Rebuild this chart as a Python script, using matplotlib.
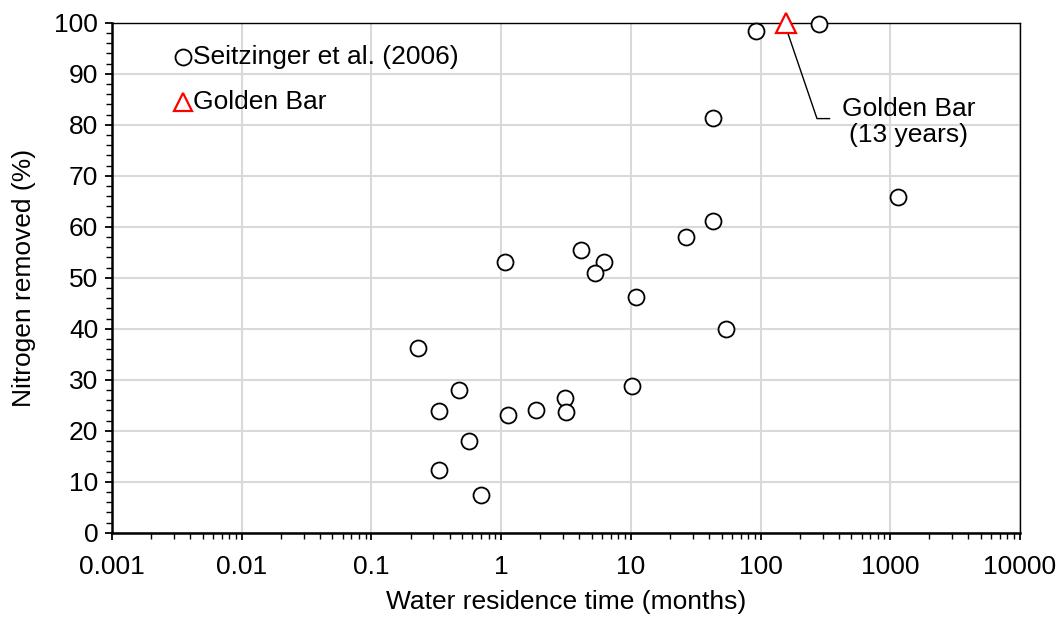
import numpy as np
import matplotlib
matplotlib.use('Agg')
import matplotlib.pyplot as plt
from matplotlib.ticker import LogLocator, MultipleLocator, FixedLocator, FixedFormatter

plt.rcParams['font.family'] = ['Liberation Sans', 'DejaVu Sans']

# Seitzinger et al. (2006) lakes/reservoirs
residence_months = [0.23, 0.47, 0.33, 0.56, 0.33, 0.70, 1.07, 1.13, 1.84, 3.08, 3.15,
                    4.09, 6.22, 5.28, 10.9, 10.2, 26.5, 42.6, 54.0, 42.6, 92.0, 283.0, 1150.0]
n_removed = [36.2, 28.0, 23.9, 18.0, 12.3, 7.3, 53.1, 23.1, 24.1, 26.4, 23.7,
             55.4, 53.1, 50.9, 46.3, 28.8, 58.0, 61.1, 40.0, 81.4, 98.4, 99.7, 65.9]

# Golden Bar (13 years)
golden_months = [157.0]
golden_removed = [100.0]

x_ticks = [0.001, 0.01, 0.1, 1, 10, 100, 1000, 10000]
x_tick_labels = ['0.001', '0.01', '0.1', '1', '10', '100', '1000', '10000']

fs = 19

fig = plt.figure(figsize=(10.62, 6.19), dpi=100)
ax = fig.add_axes([0.1055, 0.1394, 0.855, 0.8239])

ax.plot(residence_months, n_removed, linestyle='none', marker='o', markersize=11.5,
        markerfacecolor='white', markeredgecolor='black', markeredgewidth=1.3,
        clip_on=False, zorder=3)
ax.plot(golden_months, golden_removed, linestyle='none', marker='^', markersize=14,
        markerfacecolor='white', markeredgecolor='red', markeredgewidth=1.6,
        clip_on=False, zorder=4)

ax.set_xscale('log')
ax.set_xlim(0.001, 10000)
ax.set_ylim(0, 100)
ax.xaxis.set_major_locator(FixedLocator(x_ticks))
ax.xaxis.set_major_formatter(FixedFormatter(x_tick_labels))
ax.xaxis.set_minor_locator(LogLocator(base=10, subs=np.arange(2, 10), numticks=20))
ax.yaxis.set_major_locator(MultipleLocator(10))
ax.yaxis.set_minor_locator(MultipleLocator(2))

ax.grid(True, which='major', color='#d9d9d9', linewidth=1.5, zorder=0)
ax.set_axisbelow(True)

ax.tick_params(axis='both', which='major', direction='out', length=5, width=1.3,
               labelsize=fs)
ax.tick_params(axis='x', which='major', pad=11)
ax.tick_params(axis='y', which='major', pad=5)
ax.tick_params(axis='both', which='minor', direction='out', length=4, width=1.0)
for s in ['left', 'bottom']:
    ax.spines[s].set_linewidth(1.8)
for s in ['top', 'right']:
    ax.spines[s].set_linewidth(1.0)

ax.set_xlabel('Water residence time (months)', fontsize=fs, labelpad=8)
ax.set_ylabel('Nitrogen removed (%)', fontsize=fs, labelpad=13)

# legend drawn as in the original (marker + text, no frame)
ax.plot([0.0035], [93.2], marker='o', markersize=11.5, markerfacecolor='white',
        markeredgecolor='black', markeredgewidth=1.3, linestyle='none')
ax.text(0.0042, 93.2, 'Seitzinger et al. (2006)', fontsize=fs, va='center', ha='left')
ax.plot([0.0035], [84.4], marker='^', markersize=13, markerfacecolor='white',
        markeredgecolor='red', markeredgewidth=1.6, linestyle='none')
ax.text(0.0042, 84.4, 'Golden Bar', fontsize=fs, va='center', ha='left')

# callout for Golden Bar
ax.plot([golden_months[0], 272, 340], [99.0, 81.2, 81.2], color='black', linewidth=1.0, zorder=2)
ax.text(1380, 80.6, 'Golden Bar\n(13 years)', fontsize=fs, ha='center', va='center',
        linespacing=1.1)

fig.savefig('out.png', dpi=100)
